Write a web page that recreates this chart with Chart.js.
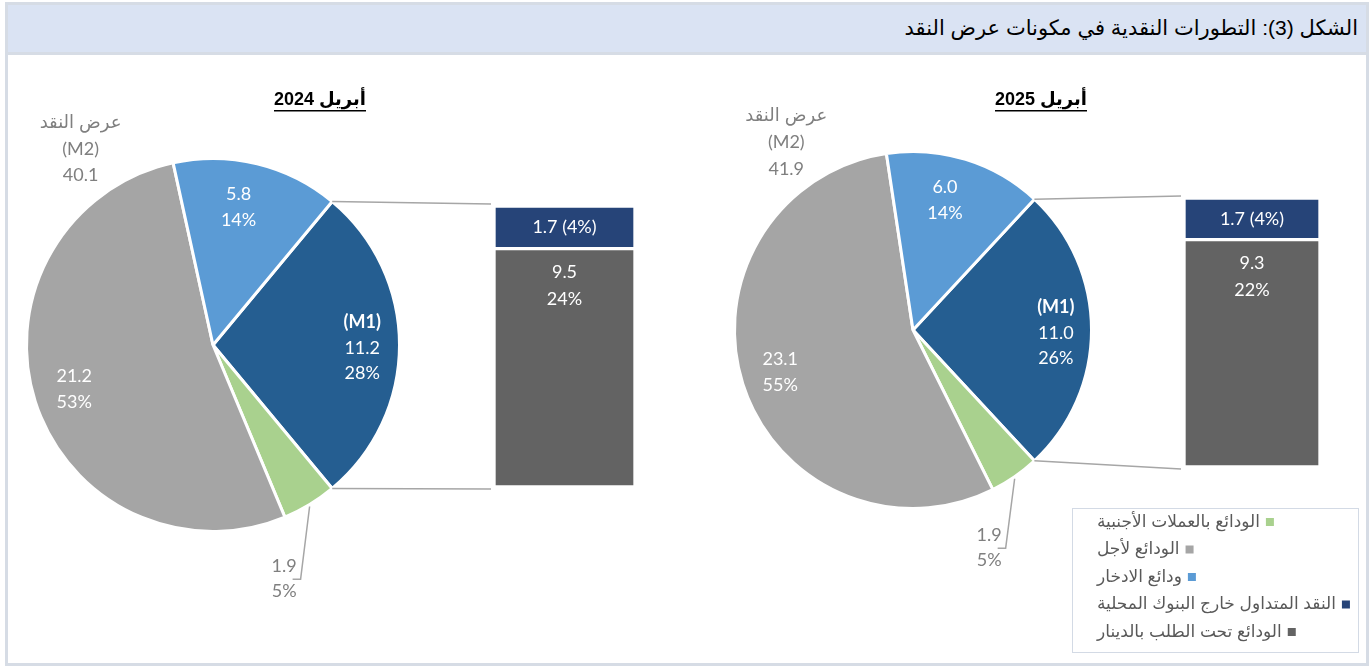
<!DOCTYPE html>
<html>
<head>
<meta charset="utf-8">
<script src="https://cdn.jsdelivr.net/npm/chart.js@4.4.1/dist/chart.umd.min.js"></script>
<style>
  html, body { margin: 0; padding: 0; background: #fff; }
  #page { position: relative; width: 1371px; height: 666px; overflow: hidden; }
  #frame { position: absolute; left: 5px; top: 2px; width: 1364px; height: 664px;
           border: 3px solid #d6dce5; box-sizing: border-box; }
  #titlebar { position: absolute; left: 8px; top: 5px; width: 1358px; height: 47px;
              background: #dae3f3; border-bottom: 3px solid #d6dce5; }
  #title { position: absolute; right: 13px; top: 16px; font: 21px "Liberation Sans", "DejaVu Sans", sans-serif;
           color: #000; white-space: nowrap; }
  canvas { position: absolute; }
  #overlay { left: 0; top: 0; pointer-events: none; }
</style>
</head>
<body>
<div id="page">
  <div id="frame"></div>
  <div id="titlebar"></div>
  <div id="title" dir="rtl">الشكل (3): التطورات النقدية في مكونات عرض النقد</div>
  <canvas id="pie0" width="480" height="600" style="left:0px;top:56px"></canvas>
  <canvas id="bar0" width="141" height="281" style="left:494px;top:206px"></canvas>
  <canvas id="pie1" width="400" height="600" style="left:700px;top:56px"></canvas>
  <canvas id="bar1" width="136" height="269" style="left:1184px;top:198px"></canvas>
  <canvas id="overlay" width="1371" height="666"></canvas>
</div>
<script>
// legend order, as in the reference
const categories = [
  "الودائع بالعملات الأجنبية",
  "الودائع لأجل",
  "ودائع الادخار",
  "النقد المتداول خارج البنوك المحلية",
  "الودائع تحت الطلب بالدينار",
];
const periods = ["أبريل 2024", "أبريل 2025"];

// billions, one value per period
const foreignDeposits = [1.9, 1.9];
const timeDeposits = [21.2, 23.1];
const savingsDeposits = [5.8, 6.0];
const currencyOutside = [1.7, 1.7];
const demandDeposits = [9.5, 9.3];
const m1Totals = [11.2, 11.0];
const m2Totals = [40.1, 41.9];

const COLORS = {
  m1: "#255e91",
  foreign: "#a9d18e",
  time: "#a5a5a5",
  savings: "#5b9bd5",
  currency: "#264478",
  demand: "#636363",
};
const NUM_FONT = '"Lato", "Liberation Sans", sans-serif';
const AR_FONT = '"Liberation Sans", "DejaVu Sans", sans-serif';
const GREY_TEXT = "#7f7f7f";
const LINE_GREY = "#a6a6a6";

// chart area padding so each pie lands where the reference puts it
const piePads = [
  { left: 25, top: 101, right: 79, bottom: 123 },
  { left: 33, top: 94, right: 7, bottom: 146 },
];

const fmt = (v) => v.toFixed(1);
const pct = (v, i) => Math.round((v / m2Totals[i]) * 100) + "%";

function drawLines(ctx, lines, x, y, lh) {
  const y0 = y - ((lines.length - 1) * lh) / 2;
  lines.forEach((ln, k) => {
    ctx.font = (ln.bold ? "bold " : "") + "18px " + (ln.ar ? AR_FONT : NUM_FONT);
    ctx.fillText(ln.text, x, y0 + k * lh);
  });
}

const pieLabels = {
  id: "pieLabels",
  afterDatasetsDraw(chart, args, opts) {
    const i = opts.period;
    const { ctx } = chart;
    const arcs = chart.getDatasetMeta(0).data;
    const cx = arcs[0].x, cy = arcs[0].y, R = arcs[0].outerRadius;
    const at = (arc, f) => {
      const mid = (arc.startAngle + arc.endAngle) / 2;
      return [cx + Math.cos(mid) * R * f, cy + Math.sin(mid) * R * f];
    };
    ctx.save();
    ctx.textAlign = "center";
    ctx.textBaseline = "middle";
    ctx.fillStyle = "#fff";

    let [x, y] = at(arcs[0], 0.8);
    drawLines(ctx, [
      { text: "(M1)", bold: true },
      { text: fmt(m1Totals[i]) },
      { text: pct(m1Totals[i], i) },
    ], x, y + 3, 25.5);

    [x, y] = at(arcs[2], 0.78);
    drawLines(ctx, [{ text: fmt(timeDeposits[i]) }, { text: pct(timeDeposits[i], i) }], x, y, 26);

    [x, y] = at(arcs[3], 0.76);
    drawLines(ctx, [{ text: fmt(savingsDeposits[i]) }, { text: pct(savingsDeposits[i], i) }], x - 8, y, 26);

    // green slice: label outside with a leader line
    const [ex, ey] = at(arcs[1], 1.0);
    const kx = ex - 9, ky = ey + 0.4 * R;
    ctx.strokeStyle = LINE_GREY;
    ctx.lineWidth = 1.5;
    ctx.beginPath();
    ctx.moveTo(ex, ey + 2);
    ctx.lineTo(kx, ky);
    ctx.lineTo(kx - 8, ky);
    ctx.stroke();
    ctx.fillStyle = GREY_TEXT;
    ctx.textAlign = "right";
    drawLines(ctx, [{ text: fmt(foreignDeposits[i]) }, { text: pct(foreignDeposits[i], i) }], kx - 4, ky, 25);

    // M2 total above-left of the pie
    ctx.textAlign = "center";
    ctx.direction = "rtl";
    drawLines(ctx, [
      { text: "عرض النقد", ar: true },
      { text: "(M2)" },
      { text: fmt(m2Totals[i]) },
    ], cx - 0.71 * R, cy - 1.05 * R, 26.5);
    ctx.restore();
  },
};

const barLabels = {
  id: "barLabels",
  afterDatasetsDraw(chart, args, opts) {
    const i = opts.period;
    const { ctx } = chart;
    const dem = chart.getDatasetMeta(0).data[0];
    const cur = chart.getDatasetMeta(1).data[0];
    ctx.save();
    ctx.fillStyle = "#fff";
    ctx.textAlign = "center";
    ctx.textBaseline = "middle";
    ctx.font = "18px " + NUM_FONT;
    ctx.fillText(fmt(currencyOutside[i]) + " (" + pct(currencyOutside[i], i) + ")", cur.x, (cur.y + cur.base) / 2);
    ctx.fillText(fmt(demandDeposits[i]), dem.x, dem.y + 24);
    ctx.fillText(pct(demandDeposits[i], i), dem.x, dem.y + 51);
    ctx.restore();
  },
};

function makePie(i) {
  const values = [m1Totals[i], foreignDeposits[i], timeDeposits[i], savingsDeposits[i]];
  const sum = values.reduce((a, b) => a + b, 0);
  return new Chart(document.getElementById("pie" + i), {
    type: "pie",
    data: {
      labels: ["M1", categories[0], categories[1], categories[2]],
      datasets: [{
        data: values,
        backgroundColor: [COLORS.m1, COLORS.foreign, COLORS.time, COLORS.savings],
        borderColor: "#fff",
        borderWidth: 3,
        hoverOffset: 0,
      }],
    },
    options: {
      responsive: false,
      animation: false,
      events: [],
      // M1 slice faces the bar, centred on 3 o'clock
      rotation: 90 - (m1Totals[i] / sum) * 180,
      layout: { padding: piePads[i] },
      plugins: {
        legend: { display: false },
        tooltip: { enabled: false },
        pieLabels: { period: i },
      },
    },
    plugins: [pieLabels],
  });
}

function makeBar(i) {
  return new Chart(document.getElementById("bar" + i), {
    type: "bar",
    data: {
      labels: [periods[i]],
      datasets: [
        { label: categories[4], data: [demandDeposits[i]], backgroundColor: COLORS.demand },
        { label: categories[3], data: [currencyOutside[i]], backgroundColor: COLORS.currency },
      ],
    },
    options: {
      responsive: false,
      animation: false,
      events: [],
      datasets: {
        bar: { barPercentage: 1, categoryPercentage: 1, borderColor: "#fff", borderWidth: 2, borderSkipped: false },
      },
      scales: {
        x: { stacked: true, display: false },
        y: { stacked: true, display: false, min: 0, max: demandDeposits[i] + currencyOutside[i] },
      },
      plugins: {
        legend: { display: false },
        tooltip: { enabled: false },
        barLabels: { period: i },
      },
    },
    plugins: [barLabels],
  });
}

const pies = [makePie(0), makePie(1)];
const bars = [makeBar(0), makeBar(1)];

// connectors, panel titles and legend go on a transparent canvas on top
const ov = document.getElementById("overlay").getContext("2d");

pies.forEach((pie, i) => {
  const pc = pie.canvas, bc = bars[i].canvas;
  const arc = pie.getDatasetMeta(0).data[0];
  const top = bars[i].getDatasetMeta(1).data[0];
  const bottom = bars[i].getDatasetMeta(0).data[0];
  const bx = bc.offsetLeft + top.x - top.width / 2 - 3;
  const px = (a) => pc.offsetLeft + arc.x + Math.cos(a) * arc.outerRadius;
  const py = (a) => pc.offsetTop + arc.y + Math.sin(a) * arc.outerRadius;
  ov.strokeStyle = LINE_GREY;
  ov.lineWidth = 1.5;
  ov.beginPath();
  ov.moveTo(px(arc.startAngle), py(arc.startAngle));
  ov.lineTo(bx, bc.offsetTop + top.y - 2);
  ov.moveTo(px(arc.endAngle), py(arc.endAngle));
  ov.lineTo(bx, bc.offsetTop + bottom.base + 2);
  ov.stroke();
});

const titlePos = [[320, 100], [1041, 100]];
ov.fillStyle = "#000";
ov.direction = "rtl";
ov.textAlign = "center";
ov.textBaseline = "middle";
ov.font = "bold 18px " + AR_FONT;
periods.forEach((p, i) => {
  const [x, y] = titlePos[i];
  ov.fillText(p, x, y);
  const w = ov.measureText(p).width;
  ov.fillRect(x - w / 2, y + 10, w, 1.5);
});

// legend box
const legColors = [COLORS.foreign, COLORS.time, COLORS.savings, COLORS.currency, COLORS.demand];
ov.strokeStyle = "#d3dae5";
ov.lineWidth = 1;
ov.strokeRect(1072.5, 508.5, 286, 144);
ov.font = "17px " + AR_FONT;
ov.textAlign = "left";
categories.forEach((c, k) => {
  const y = 522 + k * 27.5;
  ov.fillStyle = "#595959";
  ov.fillText(c, 1097, y);
  const w = ov.measureText(c).width;
  ov.fillStyle = legColors[k];
  ov.fillRect(1097 + w + 6, y - 4, 8, 8);
});
</script>
</body>
</html>
